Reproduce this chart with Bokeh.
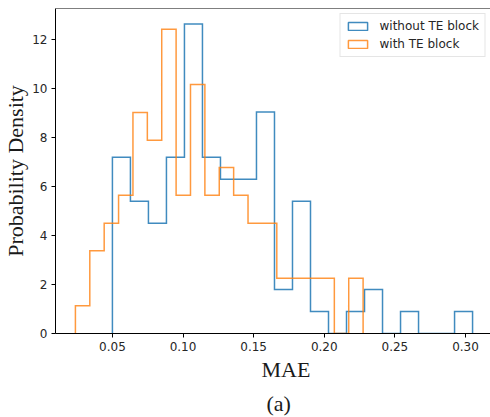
import numpy as np
from bokeh.plotting import figure
from bokeh.models import (Range1d, FixedTicker, NumeralTickFormatter, Span, Title,
                          Legend, LegendItem, ColumnDataSource)
from bokeh.embed import file_html
from bokeh.resources import INLINE

# ---- data (probability densities per bin) ----
without_label = "without TE block"
with_label = "with TE block"

without_range = (0.0500, 0.3050)   # first / last bin edge
without_density = [7.2, 5.4, 4.5, 7.2, 12.65, 7.2, 6.3, 6.3, 9.05, 1.8,
                   5.4, 0.9, 0.0, 0.9, 1.8, 0.0, 0.9, 0.0, 0.0, 0.9]

with_range = (0.0238, 0.2275)
with_density = [1.13, 3.38, 4.5, 5.65, 9.03, 7.9, 12.43, 5.65, 10.17, 5.65,
                6.78, 5.65, 4.5, 4.5, 2.26, 2.26, 2.26, 2.26, 0.0, 2.26]

x_ticks = [0.05, 0.10, 0.15, 0.20, 0.25, 0.30]
y_ticks = [0, 2, 4, 6, 8, 10, 12]

BLUE = "#1f77b4"
ORANGE = "#ff7f0e"
SERIF = "Liberation Serif"
SANS = "DejaVu Sans"
YMAX = 13.28


def step_path(rng, dens):
    dens = np.asarray(dens, dtype=float)
    edges = np.linspace(rng[0], rng[1], len(dens) + 1)
    xs = [edges[0]]
    ys = [0.0]
    for i, h in enumerate(dens):
        xs += [edges[i], edges[i + 1]]
        ys += [h, h]
    xs.append(edges[-1])
    ys.append(0.0)
    return xs, ys


p = figure(width=490, height=417, output_backend="svg", toolbar_location=None,
           x_range=Range1d(0.0097, 0.3177), y_range=Range1d(0, YMAX),
           min_border_left=10, min_border_right=0, min_border_top=8,
           min_border_bottom=10)
p.outline_line_color = None
p.grid.visible = False
p.background_fill_color = "white"
p.border_fill_color = "white"

# top spine
p.add_layout(Span(location=YMAX, dimension="width", line_color="black", line_width=1))

for ax in (p.xaxis[0], p.yaxis[0]):
    ax.axis_line_color = "black"
    ax.axis_line_width = 1
    ax.major_tick_line_color = "black"
    ax.major_tick_out = 4
    ax.major_tick_in = 0
    ax.minor_tick_line_color = None
    ax.major_label_text_font = SANS
    ax.major_label_text_font_size = "12px"
    ax.major_label_text_color = "#262626"
    ax.major_label_standoff = 4

p.xaxis.ticker = FixedTicker(ticks=x_ticks)
p.xaxis.formatter = NumeralTickFormatter(format="0.00")
p.yaxis.ticker = FixedTicker(ticks=y_ticks)

p.yaxis.axis_label = "Probability Density"
p.yaxis.axis_label_text_font = SERIF
p.yaxis.axis_label_text_font_size = "22px"
p.yaxis.axis_label_text_font_style = "normal"
p.yaxis.axis_label_text_color = "#1a1a1a"
p.yaxis.axis_label_standoff = 1

bx, by = step_path(without_range, without_density)
ox, oy = step_path(with_range, with_density)
p.line(bx, by, line_color=BLUE, line_width=1.5, line_alpha=0.85, line_join="miter")
p.line(ox, oy, line_color=ORANGE, line_width=1.5, line_alpha=0.8, line_join="miter")

# renderers with no visible marks, used only for the legend swatches
nan_src = ColumnDataSource(dict(left=[np.nan], right=[np.nan], top=[np.nan], bottom=[np.nan]))
qb = p.quad(left="left", right="right", top="top", bottom="bottom", source=nan_src,
            fill_color=None, line_color=BLUE, line_width=1.5, line_alpha=0.85)
qo = p.quad(left="left", right="right", top="top", bottom="bottom", source=nan_src,
            fill_color=None, line_color=ORANGE, line_width=1.5, line_alpha=0.8)

legend = Legend(items=[LegendItem(label=without_label, renderers=[qb]),
                       LegendItem(label=with_label, renderers=[qo])],
                location="top_right", margin=5, padding=5, spacing=4,
                glyph_width=24, glyph_height=10, label_height=14,
                label_standoff=10, label_text_font=SANS,
                label_text_font_size="12px", label_text_color="#262626",
                border_line_color="#cccccc", border_line_width=1,
                background_fill_color="white", background_fill_alpha=0.8)
p.add_layout(legend)

p.add_layout(Title(text="MAE", align="left", offset=206, text_font=SERIF,
                   text_font_size="22px", text_font_style="normal",
                   text_color="#1a1a1a", standoff=6, vertical_align="top"), "below")
p.add_layout(Title(text="(a)", align="left", offset=211, text_font=SERIF,
                   text_font_size="22px", text_font_style="normal",
                   text_color="#1a1a1a", standoff=4, vertical_align="bottom"), "below")

open("out.html", "w").write(file_html(p, INLINE))
